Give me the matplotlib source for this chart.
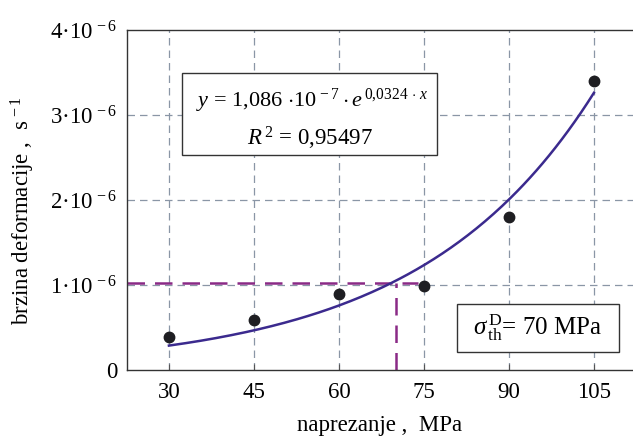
import matplotlib
matplotlib.use("Agg")
import matplotlib.pyplot as plt
from matplotlib.patches import Rectangle
import numpy as np

# measured points
stress = [30, 45, 60, 75, 90, 105]
rate = [0.39e-6, 0.59e-6, 0.89e-6, 0.99e-6, 1.80e-6, 3.40e-6]

# fit shown in the chart: y = a * exp(b * x)
fit_a = 1.086e-7
fit_b = 0.0324
fit_x = np.linspace(30, 105, 200)

x_ticks = [30, 45, 60, 75, 90, 105]
y_ticks = [0, 1e-6, 2e-6, 3e-6, 4e-6]
y_labels = ['0', '1·10$^{\\,-6}$', '2·10$^{\\,-6}$', '3·10$^{\\,-6}$', '4·10$^{\\,-6}$']

sigma_th = 70
rate_th = 1.02e-6

plt.rcParams['font.family'] = ['Liberation Serif', 'DejaVu Serif']
plt.rcParams['mathtext.fontset'] = 'custom'
plt.rcParams['mathtext.rm'] = 'Liberation Serif'
plt.rcParams['mathtext.it'] = 'Liberation Serif:italic'
plt.rcParams['mathtext.bf'] = 'Liberation Serif:bold'

fig = plt.figure(figsize=(6.33, 4.38), dpi=100)
ax = fig.add_axes([127/633, 68/438, 506/633, 340/438])

grid_col = '#8a96a6'
for xv in x_ticks:
    ax.axvline(xv, color=grid_col, lw=0.9, ls=(0, (6, 4)), zorder=1)
for yv in y_ticks[1:-1]:
    ax.axhline(yv, color=grid_col, lw=0.9, ls=(0, (6, 4)), zorder=1)

ax.plot(fit_x, fit_a * np.exp(fit_b * fit_x), color='#3b2a8e', lw=1.8, zorder=3)
ax.plot(stress, rate, 'o', color='#1e1e22', ms=7.5, zorder=4)

purple = '#8a2a86'
ax.plot([22.6, 74], [rate_th, rate_th], color=purple, lw=1.8, ls=(0, (7, 4)), zorder=2)
ax.plot([sigma_th, sigma_th], [0, rate_th], color=purple, lw=1.8, ls=(0, (7, 4)), zorder=2)

ax.set_xlim(22.6, 111.9)
ax.set_ylim(0, 4e-6)
ax.set_xticks(x_ticks)
ax.set_xticklabels([str(v) for v in x_ticks])
ax.set_yticks(y_ticks)
ax.set_yticklabels(y_labels)
ax.tick_params(direction='in', length=4, labelsize=16.5, color='#555555', pad=9)
ax.tick_params(axis='y', length=0, pad=7)
for s in ['left', 'bottom', 'top']:
    ax.spines[s].set_color('#333333')
    ax.spines[s].set_linewidth(1.0)
ax.spines['right'].set_visible(False)

ax.set_xlabel('naprezanje ,  MPa', fontsize=16.5, labelpad=8)
ax.set_ylabel('brzina deformacije ,  s$^{\\,-1}$', fontsize=16.5)
ax.yaxis.set_label_coords(-0.178, 0.47)

# equation box
ax.add_patch(Rectangle((0.109, 0.632), 0.504, 0.241, transform=ax.transAxes,
                       fc='white', ec='#333333', lw=1.0, zorder=5))
ax.text(0.365, 0.79, r'$y$ = 1,086 $\cdot$10$^{\,-7}\cdot e^{\,0{,}0324\,\cdot\,x}$',
        transform=ax.transAxes, fontsize=16, ha='center', va='center', zorder=6)
ax.text(0.361, 0.68, r'$R^{\,2}$ = 0,95497',
        transform=ax.transAxes, fontsize=16.5, ha='center', va='center', zorder=6)

# threshold box
ax.add_patch(Rectangle((0.652, 0.053), 0.320, 0.141, transform=ax.transAxes,
                       fc='white', ec='#333333', lw=1.0, zorder=5))
ax.text(0.812, 0.124, r'$\sigma^{\,\rm D}_{\,\rm th}$= 70 MPa',
        transform=ax.transAxes, fontsize=18, ha='center', va='center', zorder=6)

fig.savefig('out.png', dpi=100)
